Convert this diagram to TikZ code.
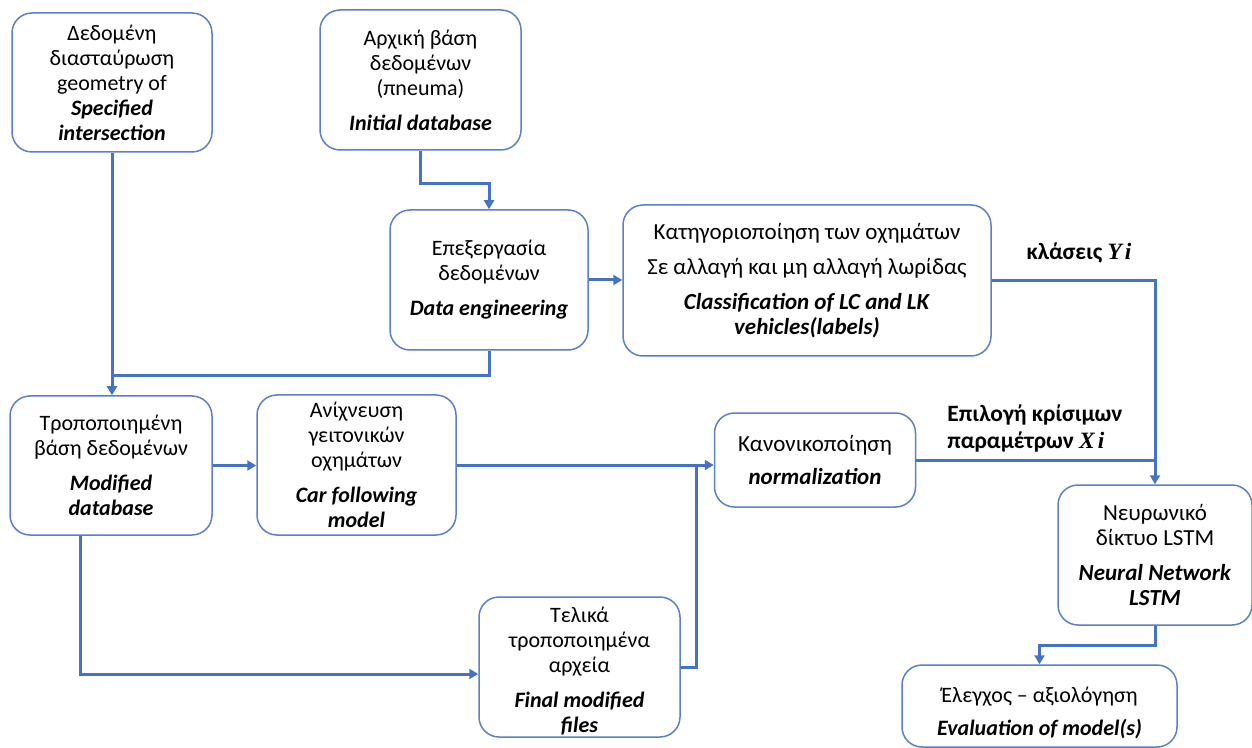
\documentclass[tikz,border=0pt]{standalone}
\usepackage{fontspec}
\setmainfont{Carlito}
\newfontfamily\mathlike{Liberation Serif}
\usetikzlibrary{arrows.meta,calc}
\definecolor{FlowBlue}{HTML}{4472C4}
\definecolor{EdgeBlue}{HTML}{5B80C8}
\newcommand{\engl}[1]{\textbf{\textit{#1}}}
\tikzset{
  stage/.style={draw=EdgeBlue, line width=0.75pt, rounded corners=10pt, fill=white,
    align=center, inner xsep=2pt, inner ysep=0pt},
  wh/.style 2 args={minimum width=#1*0.5pt, minimum height=#2*0.5pt},
  larger/.style={font=\fontsize{11.5}{12.5}\selectfont},
  flow/.style={-{Triangle[length=4.5pt,width=5pt]}, FlowBlue, line width=1.5pt},
  link/.style={FlowBlue, line width=1.5pt},
  tag/.style={font=\fontsize{11.7}{13.5}\selectfont\bfseries, inner sep=0pt}
}
\begin{document}
\begin{tikzpicture}[x=0.5pt, y=-0.5pt, font=\fontsize{11}{12.5}\selectfont]
  \useasboundingbox (0,0) rectangle (1252,748);

  % boxes
  \node[stage, wh={200}{139}] (spec) at (112,82.5)
    {Δεδομένη\\διασταύρωση\\geometry of\\\engl{Specified}\\\engl{intersection}};
  \node[stage, wh={201}{140}] (init) at (420.5,80)
    {Αρχική βάση\\δεδομένων\\(πneuma)\\[5pt]\engl{Initial database}};
  \node[stage, wh={198}{140}] (dataeng) at (489,280)
    {Επεξεργασία\\δεδομένων\\[5pt]\engl{Data engineering}};
  \node[stage, larger, wh={368}{151}] (classif) at (807,280.5)
    {Κατηγοριοποίηση των οχημάτων\\[5pt]Σε αλλαγή και μη αλλαγή λωρίδας\\[5pt]\engl{Classification of LC and LK}\\\engl{vehicles(labels)}};
  \node[stage, wh={202}{139}] (moddb) at (111,465.5)
    {Τροποποιημένη\\βάση δεδομένων\\[5pt]\engl{Modified}\\\engl{database}};
  \node[stage, wh={199}{140}] (carfol) at (356.5,465)
    {Ανίχνευση\\γειτονικών\\οχημάτων\\[5pt]\engl{Car following}\\\engl{model}};
  \node[stage, larger, wh={201}{94}] (norm) at (815,460)
    {Κανονικοποίηση\\[4pt]\engl{normalization}};
  \node[stage, wh={201}{140}] (final) at (579.5,667)
    {\rule{0pt}{12pt}Τελικά\\τροποποιημένα\\αρχεία\\[5pt]\engl{Final modified}\\\engl{files}};
  \node[stage, larger, wh={194}{140}] (lstm) at (1155,555)
    {Νευρωνικό\\δίκτυο LSTM\\[5pt]\engl{Neural Network}\\\engl{LSTM}};
  \node[stage, wh={275}{82}] (eval) at (1039.5,706)
    {\rule{0pt}{15pt}Έλεγχος – αξιολόγηση\\[4pt]\engl{Evaluation of model(s)}};

  % labels on the lines
  \node[tag] (clsY) at (1079,253) {κλάσεις {\mathlike\itshape Y\kern1.5pt i}};
  \node[tag, anchor=west, align=left] (selX) at (947,428)
    {Επιλογή κρίσιμων\\παραμέτρων {\mathlike\itshape X\kern1.5pt i}};

  % connectors
  \coordinate (j1) at ($(spec.south |- moddb.north)+(0,-20)$);
  \draw[flow] (init.south) -- ++(0,33) -| (dataeng.north);
  \draw[flow] (spec.south) -- (spec.south |- moddb.north);
  \draw[link] (dataeng.south) |- (j1);
  \draw[flow] (dataeng.east) -- (dataeng.east -| classif.west);
  \draw[flow] (classif.east) -| (lstm.north);
  \draw[link] (norm.east) -- (norm.east -| lstm.north);
  \draw[flow] (moddb.east) -- (moddb.east -| carfol.west);
  \draw[flow] (carfol.east) -- (carfol.east -| norm.west);
  \draw[flow] ($(moddb.south)+(-31,0)$) |- ($(final.west)+(0,7)$);
  \draw[link] (final.east) -| ($(carfol.east -| norm.west)+(-17,0)$);
  \draw[flow] (lstm.south) -- ++(0,20) -| (eval.north);
\end{tikzpicture}
\end{document}
